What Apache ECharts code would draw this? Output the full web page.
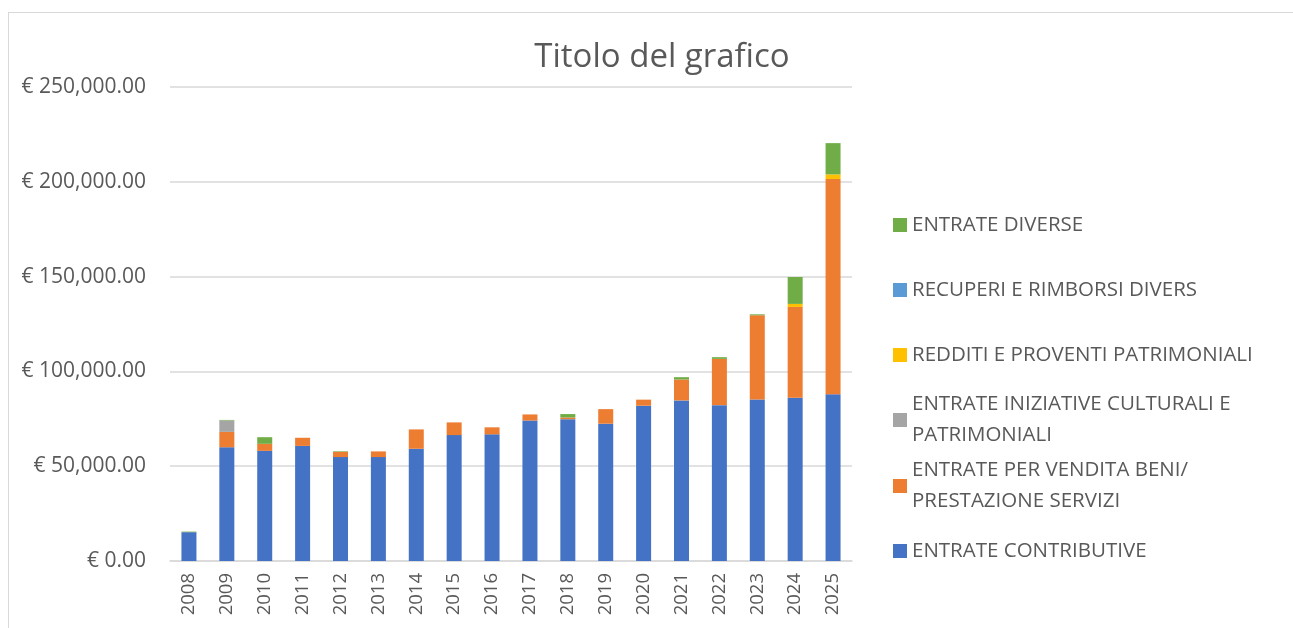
<!DOCTYPE html>
<html>
<head>
<meta charset="utf-8">
<script src="https://cdn.jsdelivr.net/npm/echarts@6/dist/echarts.min.js"></script>
<style>
  html, body { margin: 0; padding: 0; background: #fff; overflow: hidden; }
  #frame { position: absolute; left: 8px; top: 12px; width: 1400px; height: 700px; border: 1px solid #d9d9d9; }
  #chart { position: absolute; left: 0; top: 0; width: 1293px; height: 628px; }
</style>
</head>
<body>
<div id="frame"></div>
<div id="chart"></div>
<script>
const years = ['2008','2009','2010','2011','2012','2013','2014','2015','2016','2017','2018','2019','2020','2021','2022','2023','2024','2025'];

const contributive = [15200, 60000, 58100, 60700, 54800, 54800, 59200, 66400, 66800, 74100, 74800, 72400, 81900, 84700, 82200, 85200, 86100, 87900];
const venditaBeni  = [0, 8100, 3700, 4300, 2800, 3000, 10200, 6700, 3700, 3200, 900, 7700, 3200, 11000, 24400, 44400, 47900, 113600];
const iniziative   = [0, 6000, 0, 0, 0, 0, 0, 0, 0, 0, 0, 0, 0, 0, 0, 0, 0, 0];
const redditi      = [0, 0, 0, 0, 0, 0, 0, 0, 0, 0, 0, 0, 0, 0, 0, 0, 1600, 2400];
const recuperi     = [0, 0, 0, 0, 0, 0, 0, 0, 0, 0, 0, 0, 0, 0, 0, 0, 0, 0];
const diverse      = [300, 300, 3500, 0, 300, 0, 0, 0, 0, 0, 1800, 0, 0, 1250, 900, 500, 14200, 16500];

const names = {
  contributive: 'ENTRATE CONTRIBUTIVE',
  vendita: 'ENTRATE PER VENDITA BENI/ PRESTAZIONE SERVIZI',
  iniziative: 'ENTRATE INIZIATIVE CULTURALI E PATRIMONIALI',
  redditi: 'REDDITI E PROVENTI PATRIMONIALI',
  recuperi: 'RECUPERI E RIMBORSI DIVERS',
  diverse: 'ENTRATE DIVERSE'
};

const font = '"Open Sans", "Noto Sans", sans-serif';
const txt = '#595959';

const chart = echarts.init(document.getElementById('chart'));

function bar(name, data, color) {
  return {
    name: name, type: 'bar', stack: 'total', data: data,
    barWidth: 15,
    itemStyle: { color: color },
    emphasis: { disabled: true }
  };
}

// one legend per entry so spacing matches the reference
const legendRows = [
  { name: names.diverse, y: 220, lines: 1 },
  { name: names.recuperi, y: 285, lines: 1 },
  { name: names.redditi, y: 350, lines: 1 },
  { name: names.iniziative, y: 415, lines: 2, label: 'ENTRATE INIZIATIVE CULTURALI E\nPATRIMONIALI' },
  { name: names.vendita, y: 481, lines: 2, label: 'ENTRATE PER VENDITA BENI/\nPRESTAZIONE SERVIZI' },
  { name: names.contributive, y: 546, lines: 1 }
];
const LH = 31;
const legends = legendRows.map(r => ({
  orient: 'vertical',
  left: 888,
  top: r.lines === 1 ? r.y - LH / 2 : r.y - 1.5 * LH,
  itemWidth: 14,
  itemHeight: 14,
  itemGap: 0,
  icon: 'rect',
  selectedMode: false,
  data: [{
    name: r.name,
    textStyle: r.lines === 2 ? { padding: [LH, 0, 0, 0] } : {}
  }],
  formatter: function (n) { return r.label || n; },
  textStyle: { fontFamily: font, fontSize: 20.5, color: txt, lineHeight: LH }
}));

const option = {
  animation: false,
  title: {
    text: 'Titolo del grafico',
    left: 657, top: 36, textAlign: 'center',
    textStyle: { fontFamily: font, fontSize: 33, fontWeight: 'normal', color: txt }
  },
  legend: legends,
  grid: { left: 170, right: 441, top: 87, bottom: 67 },
  xAxis: {
    type: 'category',
    data: years,
    axisLine: { lineStyle: { color: '#d9d9d9', width: 1.5 } },
    axisTick: { show: false },
    axisLabel: { rotate: 90, margin: 12, fontFamily: font, fontSize: 18.5, color: txt }
  },
  yAxis: {
    type: 'value',
    min: 0, max: 250000, interval: 50000,
    axisLine: { show: false },
    axisTick: { show: false },
    splitLine: { lineStyle: { color: '#d9d9d9', width: 1.5 } },
    axisLabel: {
      margin: 24, fontFamily: font, fontSize: 21, color: txt,
      formatter: function (v) {
        return '€ ' + v.toLocaleString('en-US', { minimumFractionDigits: 2, maximumFractionDigits: 2 });
      }
    }
  },
  series: [
    bar(names.contributive, contributive, '#4472C4'),
    bar(names.vendita, venditaBeni, '#ED7D31'),
    bar(names.iniziative, iniziative, '#A5A5A5'),
    bar(names.redditi, redditi, '#FFC000'),
    bar(names.recuperi, recuperi, '#5B9BD5'),
    bar(names.diverse, diverse, '#70AD47')
  ]
};

chart.setOption(option);
</script>
</body>
</html>
